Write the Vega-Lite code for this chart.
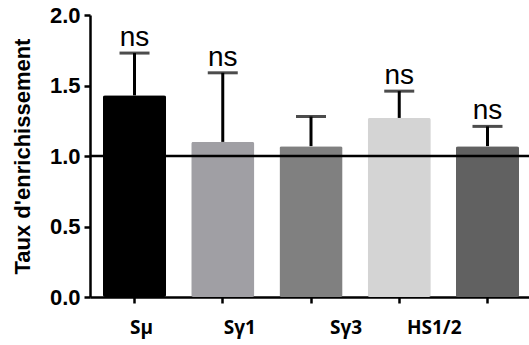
{
  "$schema": "https://vega.github.io/schema/vega-lite/v6.json",
  "width": 442,
  "height": 282,
  "autosize": "none",
  "padding": {"left": 90, "top": 15, "right": 0, "bottom": 48},
  "background": "white",
  "config": {"view": {"stroke": null}},
  "data": {
    "values": [
      {"groupe": "Sμ", "taux": 1.43, "erreur": 1.73, "sig": "ns", "couleur": "#000000"},
      {"groupe": "Sγ1", "taux": 1.10, "erreur": 1.59, "sig": "ns", "couleur": "#a09fa4"},
      {"groupe": "Sγ3", "taux": 1.07, "erreur": 1.28, "sig": "", "couleur": "#808080"},
      {"groupe": "HS1/2", "taux": 1.27, "erreur": 1.46, "sig": "ns", "couleur": "#d4d4d4"},
      {"groupe": "", "taux": 1.07, "erreur": 1.21, "sig": "ns", "couleur": "#616161"}
    ]
  },
  "layer": [
    {
      "mark": {"type": "bar", "cornerRadius": 2},
      "encoding": {
        "x": {
          "field": "groupe",
          "type": "nominal",
          "sort": null,
          "scale": {"paddingInner": 0.285, "paddingOuter": 0.147},
          "axis": {
            "title": null,
            "labelAngle": 0,
            "labelFont": "Open Sans",
            "labelFontWeight": "bold",
            "labelFontSize": 19,
            "labelColor": "black",
            "labelPadding": 15,
            "labelOffset": {"condition": [
              {"test": "datum.value == 'Sμ'", "value": 7},
              {"test": "datum.value == 'Sγ1'", "value": 17},
              {"test": "datum.value == 'Sγ3'", "value": 35},
              {"test": "datum.value == 'HS1/2'", "value": 35}
            ], "value": 0},
            "domainColor": "black",
            "domainWidth": 2.5,
            "tickColor": "black",
            "tickWidth": 2.5,
            "tickSize": 6
          }
        },
        "y": {
          "field": "taux",
          "type": "quantitative",
          "scale": {"domain": [0, 2], "nice": false},
          "axis": {
            "title": "Taux d'enrichissement",
            "titleFont": "Liberation Sans",
            "titleFontWeight": "bold",
            "titleFontSize": 22,
            "titleColor": "black",
            "titlePadding": 15,
            "values": [0, 0.5, 1, 1.5, 2],
            "format": ".1f",
            "labelFont": "Liberation Sans",
            "labelFontWeight": "bold",
            "labelFontSize": 22,
            "labelColor": "black",
            "labelPadding": 4,
            "grid": false,
            "domainColor": "black",
            "domainWidth": 2.5,
            "tickColor": "black",
            "tickWidth": 2.5,
            "tickSize": 6
          }
        },
        "color": {"field": "couleur", "type": "nominal", "scale": null, "legend": null}
      }
    },
    {
      "mark": {"type": "rule", "color": "black", "strokeWidth": 3},
      "encoding": {
        "x": {"field": "groupe", "type": "nominal", "sort": null},
        "y": {"field": "taux", "type": "quantitative"},
        "y2": {"field": "erreur"}
      }
    },
    {
      "mark": {"type": "tick", "color": "black", "size": 30, "thickness": 3},
      "encoding": {
        "x": {"field": "groupe", "type": "nominal", "sort": null},
        "y": {"field": "erreur", "type": "quantitative"}
      }
    },
    {
      "mark": {"type": "text", "font": "Liberation Sans", "fontSize": 28, "baseline": "bottom", "dy": -1, "color": "black"},
      "encoding": {
        "x": {"field": "groupe", "type": "nominal", "sort": null},
        "y": {"field": "erreur", "type": "quantitative"},
        "text": {"field": "sig"}
      }
    },
    {
      "data": {"values": [{"ref": 1}]},
      "mark": {"type": "rule", "color": "black", "strokeWidth": 2.5},
      "encoding": {
        "y": {"field": "ref", "type": "quantitative"}
      }
    }
  ]
}
